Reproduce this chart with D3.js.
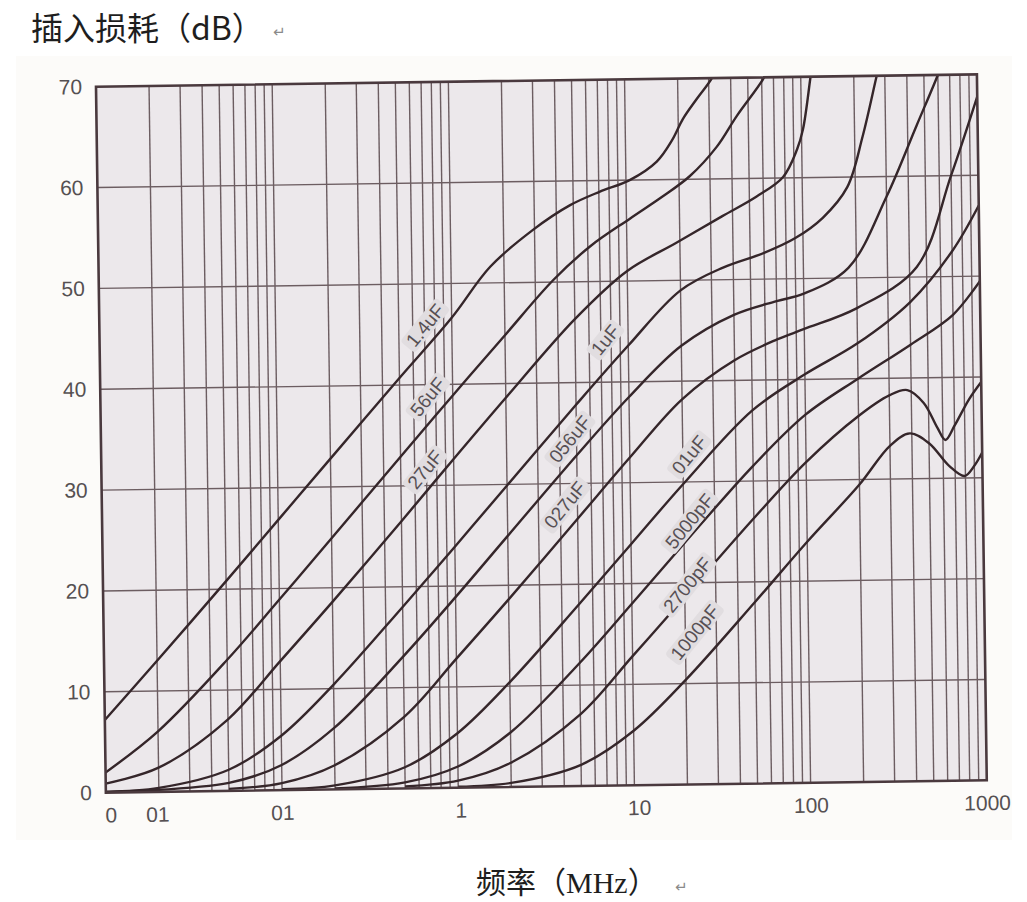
<!DOCTYPE html>
<html>
<head>
<meta charset="utf-8">
<script src="https://cdn.jsdelivr.net/npm/d3@7"></script>
<style>
  html, body { margin: 0; padding: 0; background: #ffffff; }
  svg { display: block; }
</style>
</head>
<body>
<div id="chart"></div>
<script>
// ---------------- DATA ----------------
// frequency in MHz, insertion loss in dB
const s_1_4uF = [[0.01,7.2],[0.02,13.0],[0.05,20.8],[0.1,26.8],[0.2,32.8],[0.5,40.7],[1,46.6],[1.67,51.6],[2.94,55.2],[4.8,57.6],[7.1,58.9],[10.5,60.0],[15,61.8],[18.4,63.9],[21.3,66.0],[25.7,68.0],[31.3,70],[34,71.5]];
const s_56uF  = [[0.01,2.0],[0.02,6.0],[0.05,13.0],[0.1,18.9],[0.2,24.9],[0.5,32.9],[1,38.9],[2,44.8],[3.8,50.2],[6.2,53.5],[10.5,56.2],[16,58.3],[23,60.3],[33,63.2],[43,66.2],[61,69.8],[66,71]];
const s_27uF  = [[0.01,0.9],[0.02,2.4],[0.05,7.1],[0.1,12.8],[0.2,18.6],[0.5,26.5],[1,32.6],[2,38.6],[5,46.3],[10,51.0],[19,53.7],[35,56.3],[55,58.2],[78,60.1],[94,62.8],[102,64.8],[113,69.7],[118,72]];
const s_1uF   = [[0.01,0.1],[0.02,0.4],[0.05,2.1],[0.1,5.4],[0.2,10.4],[0.5,18.0],[1,23.9],[2,29.9],[5,37.8],[10,43.6],[20,49.0],[35,51.2],[60,52.6],[90,54.0],[130,56.0],[180,59.0],[222,64.0],[270,70],[280,71]];
const s_056uF = [[0.01,0.03],[0.05,0.8],[0.1,2.5],[0.2,6.1],[0.5,13.1],[1,18.9],[2,24.9],[5,32.8],[10,38.5],[20,43.5],[40,46.5],[70,47.8],[100,48.5],[180,51.0],[300,58.0],[450,65.0],[600,70],[630,71]];
const s_027uF = [[0.05,0.2],[0.1,0.7],[0.2,2.4],[0.5,7.1],[1,12.8],[2,18.6],[5,26.5],[10,32.5],[20,38.2],[40,42.0],[70,44.0],[100,45.0],[200,47.0],[440,51.0],[700,60.0],[1000,67.8]];
const s_01uF  = [[0.1,0.1],[0.2,0.4],[0.5,2.1],[1,5.4],[2,10.4],[5,18.0],[10,23.9],[20,29.8],[50,37.0],[100,40.5],[200,43.5],[400,47.5],[700,52.5],[1000,57.0]];
const s_5000pF= [[0.2,0.1],[0.5,0.6],[1,2.1],[2,5.4],[5,12.2],[10,18.0],[20,23.9],[50,31.5],[100,36.5],[200,40.0],[400,43.3],[700,46.2],[1000,49.5]];
const s_2700pF= [[0.5,0.2],[1,0.7],[2,2.4],[5,7.1],[10,12.8],[20,18.6],[50,26.3],[100,31.8],[200,36.3],[300,38.3],[380,38.8],[470,37.5],[560,35.0],[620,33.8],[700,35.2],[850,37.8],[1000,39.5]];
const s_1000pF= [[1,0.1],[2,0.4],[5,2.1],[10,5.4],[20,10.4],[50,18.0],[100,23.9],[200,29.5],[300,33.3],[390,34.5],[500,33.5],[650,31.2],[790,30.2],[900,31.2],[1000,32.5]];

const seriesList = [s_1_4uF, s_56uF, s_27uF, s_1uF, s_056uF, s_027uF, s_01uF, s_5000pF, s_2700pF, s_1000pF];

// curve labels (text, frequency, dB where the label sits)
const labelTexts = ["1.4uF","56uF","27uF","1uF","056uF","027uF","01uF","5000pF","2700pF","1000pF"];
const labelFreqs = [0.705, 0.72, 0.685, 7.4, 4.57, 4.24, 21.7, 21.5, 20.7, 22.6];
const labelDbs   = [45.9, 38.8, 31.6, 44.2, 34.4, 27.9, 32.7, 26.1, 19.8, 15.1];

// axis ticks
const yTickValues = [0,10,20,30,40,50,60,70];
const xTickValues = [0.0106, 0.0195, 0.1, 1.03, 10.6, 100, 1000];
const xTickLabels = ["0","01","01","1","10","100","1000"];

const yTitle = "插入损耗（dB）";
const xTitle = "频率（MHz）";

// ---------------- DRAWING ----------------
const W = 1027, H = 902;
const PW = 881, PH = 706;

const svg = d3.select("#chart").append("svg")
  .attr("width", W).attr("height", H);

svg.append("rect").attr("width", W).attr("height", H).attr("fill", "#ffffff");
// scanned page area
svg.append("rect").attr("x", 16).attr("y", 56).attr("width", 996).attr("height", 784)
  .attr("fill", "#fcfbf9");

const x = d3.scaleLog().domain([0.01, 1000]).range([0, PW]);
const y = d3.scaleLinear().domain([0, 70]).range([PH, 0]);

const g = svg.append("g").attr("transform", "translate(96,86.7) rotate(-0.8)");

g.append("rect").attr("width", PW).attr("height", PH).attr("fill", "#ece8eb");

// grid
const vGrid = [];
for (let k = -2; k <= 2; k++) for (let d = 1; d <= 9; d++) {
  const v = d * Math.pow(10, k);
  if (v > 0.0101 && v < 999) vGrid.push(v);
}
g.append("g").selectAll("line").data(vGrid).join("line")
  .attr("x1", d => x(d)).attr("x2", d => x(d))
  .attr("y1", 0).attr("y2", PH)
  .attr("stroke", "#6c5d61").attr("stroke-width", 1.4);

g.append("g").selectAll("line").data(yTickValues.filter(v => v > 0 && v < 70)).join("line")
  .attr("x1", 0).attr("x2", PW)
  .attr("y1", d => y(d)).attr("y2", d => y(d))
  .attr("stroke", "#6c5d61").attr("stroke-width", 1.4);

// curves
g.append("clipPath").attr("id", "plotclip").append("rect")
  .attr("width", PW).attr("height", PH);

const line = d3.line()
  .x(d => x(d[0])).y(d => y(d[1]))
  .curve(d3.curveCatmullRom.alpha(0.5));

g.append("g").attr("clip-path", "url(#plotclip)")
  .selectAll("path").data(seriesList).join("path")
  .attr("d", line)
  .attr("fill", "none").attr("stroke", "#35262a").attr("stroke-width", 2.4)
  .attr("stroke-linejoin", "round");

// curve labels
const lab = g.append("g").selectAll("g").data(labelTexts).join("g")
  .attr("transform", (d, i) => `translate(${x(labelFreqs[i])},${y(labelDbs[i])}) rotate(-50)`);
lab.each(function(d) {
  const gg = d3.select(this);
  const t = gg.append("text").text(d)
    .attr("text-anchor", "middle").attr("dy", "0.36em")
    .attr("font-family", "Liberation Sans, Arial, sans-serif")
    .attr("font-size", 19).attr("fill", "#575054");
  const bb = t.node().getBBox();
  gg.insert("rect", "text")
    .attr("x", bb.x - 4).attr("y", bb.y + 1).attr("width", bb.width + 8).attr("height", bb.height - 2)
    .attr("rx", 4).attr("fill", "#e1dde0");
});

// border
g.append("rect").attr("width", PW).attr("height", PH)
  .attr("fill", "none").attr("stroke", "#4a393e").attr("stroke-width", 2.6);

// axes
const yAxis = g.append("g").call(d3.axisLeft(y).tickValues(yTickValues).tickSize(0).tickPadding(14));
const xAxis = g.append("g").attr("transform", `translate(0,${PH})`)
  .call(d3.axisBottom(x).tickValues(xTickValues).tickFormat((d, i) => xTickLabels[i]).tickSize(0).tickPadding(15));
[yAxis, xAxis].forEach(a => {
  a.select(".domain").remove();
  a.selectAll("text").attr("font-family", "Liberation Sans, Arial, sans-serif")
    .attr("font-size", 21).attr("fill", "#555052");
});

// titles
svg.append("text").attr("x", 31).attr("y", 40).text(yTitle)
  .attr("font-family", "Noto Sans CJK SC, sans-serif").attr("font-size", 32).attr("fill", "#1e1e1e");
svg.append("text").attr("x", 273).attr("y", 37).text("↵")
  .attr("font-family", "DejaVu Sans, sans-serif").attr("font-size", 15).attr("fill", "#8a8a8a");

svg.append("text").attr("x", 476).attr("y", 893).text(xTitle)
  .attr("font-family", "Liberation Serif, Noto Sans CJK SC, serif").attr("font-size", 30).attr("fill", "#1e1e1e");
svg.append("text").attr("x", 675).attr("y", 892).text("↵")
  .attr("font-family", "DejaVu Sans, sans-serif").attr("font-size", 15).attr("fill", "#8a8a8a");
</script>
</body>
</html>
